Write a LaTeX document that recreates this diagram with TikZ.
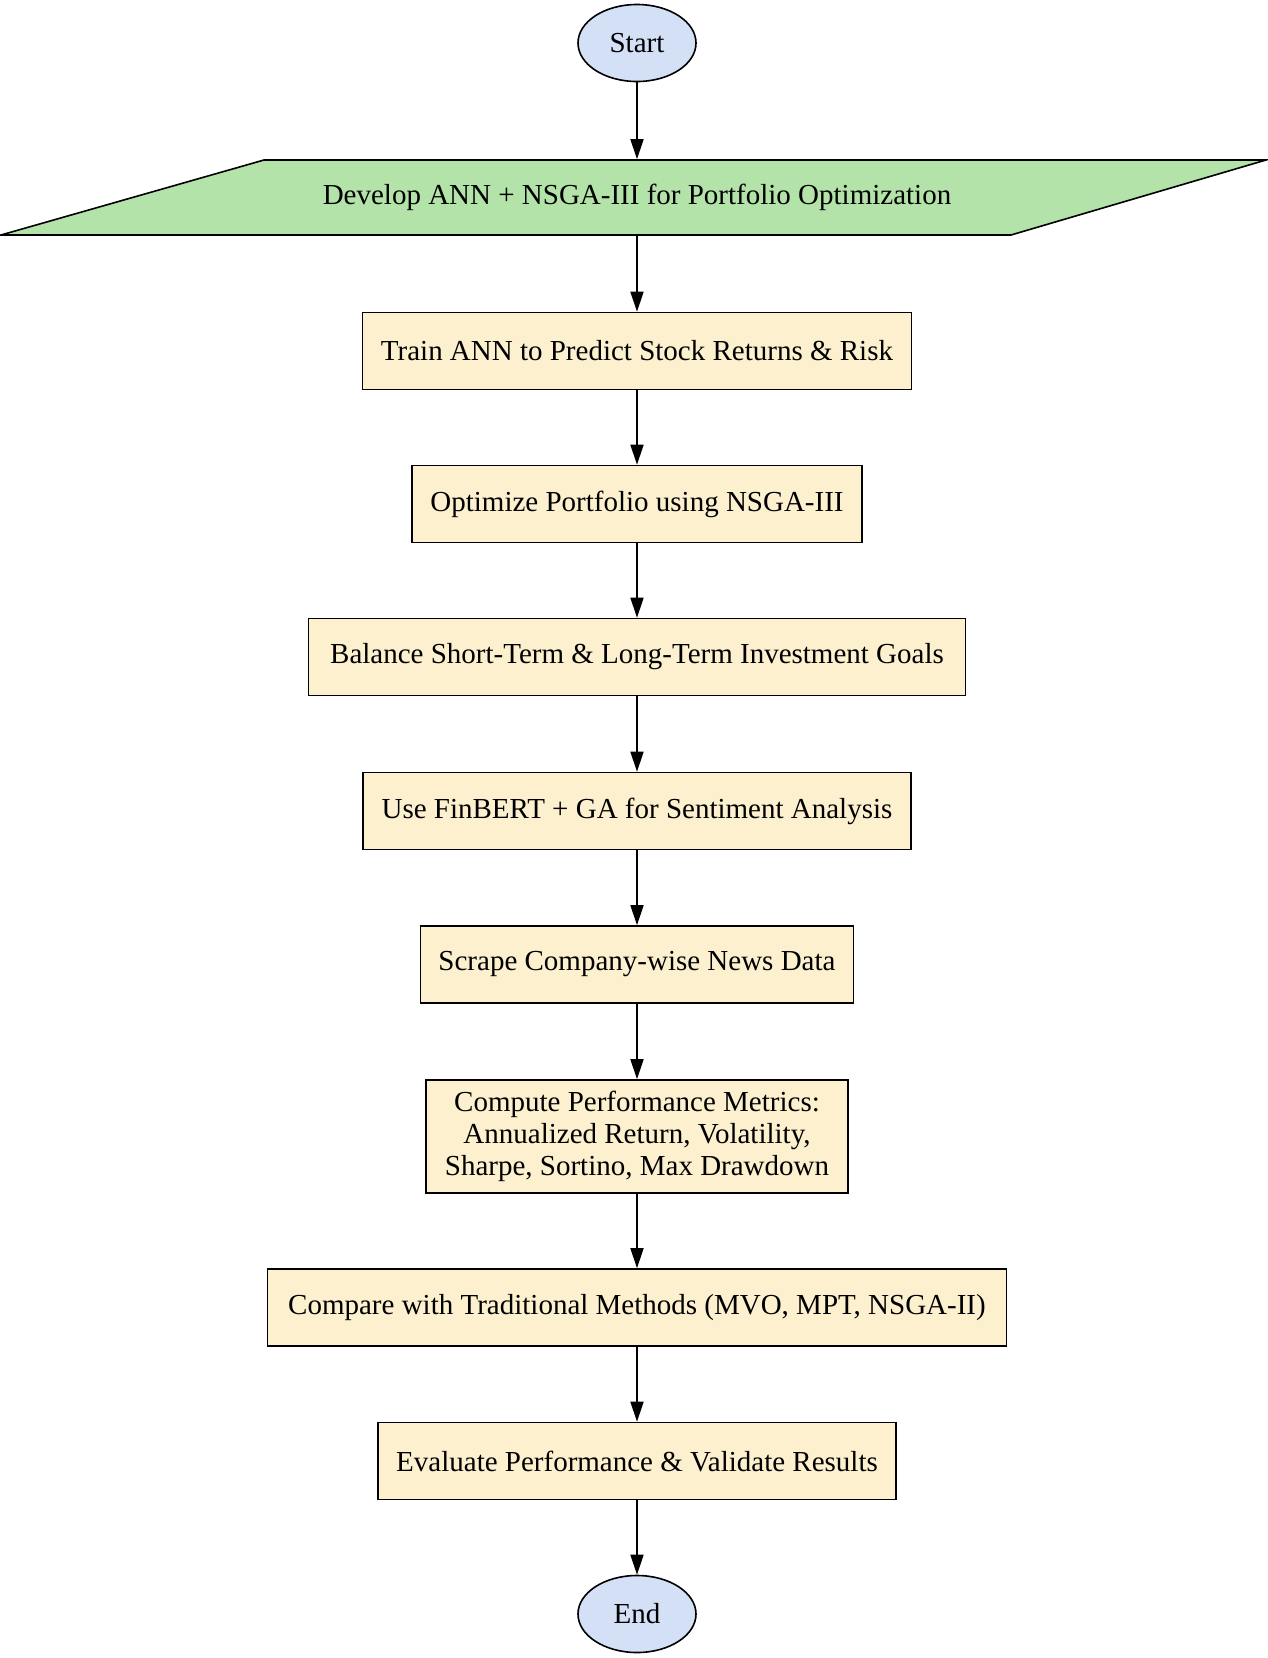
\documentclass[tikz,border=0pt]{standalone}
\usepackage{fontspec}
\setmainfont{Liberation Serif}
\usetikzlibrary{arrows.meta,shapes.geometric}
\definecolor{ovalfill}{HTML}{D3E0F6}
\definecolor{parafill}{HTML}{B3E3A8}
\definecolor{boxfill}{HTML}{FCF0CF}
\tikzset{
  base/.style={font=\fontsize{29}{31.7}\selectfont, line width=1.6pt, draw=black, inner sep=0pt, align=center},
  oval/.style={base, ellipse, fill=ovalfill, minimum width=118pt, minimum height=77pt},
  stepbox/.style={base, rectangle, fill=boxfill, minimum height=77pt},
  arr/.style={line width=1.6pt, -{Triangle[length=20pt,width=13pt]}}
}
\begin{document}
\begin{tikzpicture}[x=1pt,y=-1pt]
\useasboundingbox (0,0) rectangle (1267,1658);
\node[oval] (start) at (637,43) {Start};
\fill[parafill, draw=black, line width=1.6pt, line join=miter] (264,160) -- (1266,160) -- (1011,235) -- (1,235) -- cycle;
\node[base, draw=none, minimum width=700pt, minimum height=75pt] (dev) at (637,197.5) {Develop ANN + NSGA-III for Portfolio Optimization};
\node[stepbox, minimum width=549pt] (train) at (637,351) {Train ANN to Predict Stock Returns \& Risk};
\node[stepbox, minimum width=450pt] (opt) at (637,504) {Optimize Portfolio using NSGA-III};
\node[stepbox, minimum width=657pt] (bal) at (637,657) {Balance Short-Term \& Long-Term Investment Goals};
\node[stepbox, minimum width=548pt] (fin) at (637,811) {Use FinBERT + GA for Sentiment Analysis};
\node[stepbox, minimum width=433pt] (scr) at (637,964.5) {Scrape Company-wise News Data};
\node[stepbox, minimum width=422pt, minimum height=113pt] (comp) at (637,1136.5) {Compute Performance Metrics:\\Annualized Return, Volatility,\\Sharpe, Sortino, Max Drawdown};
\node[stepbox, minimum width=739pt] (cmp) at (637,1307.5) {Compare with Traditional Methods (MVO, MPT, NSGA-II)};
\node[stepbox, minimum width=518pt] (eval) at (637,1461) {Evaluate Performance \& Validate Results};
\node[oval] (end) at (637,1614) {End};
\draw[arr] (start) -- (dev.north);
\draw[arr] (dev.south) -- (train);
\draw[arr] (train) -- (opt);
\draw[arr] (opt) -- (bal);
\draw[arr] (bal) -- (fin);
\draw[arr] (fin) -- (scr);
\draw[arr] (scr) -- (comp);
\draw[arr] (comp) -- (cmp);
\draw[arr] (cmp) -- (eval);
\draw[arr] (eval) -- (end);
\end{tikzpicture}
\end{document}
